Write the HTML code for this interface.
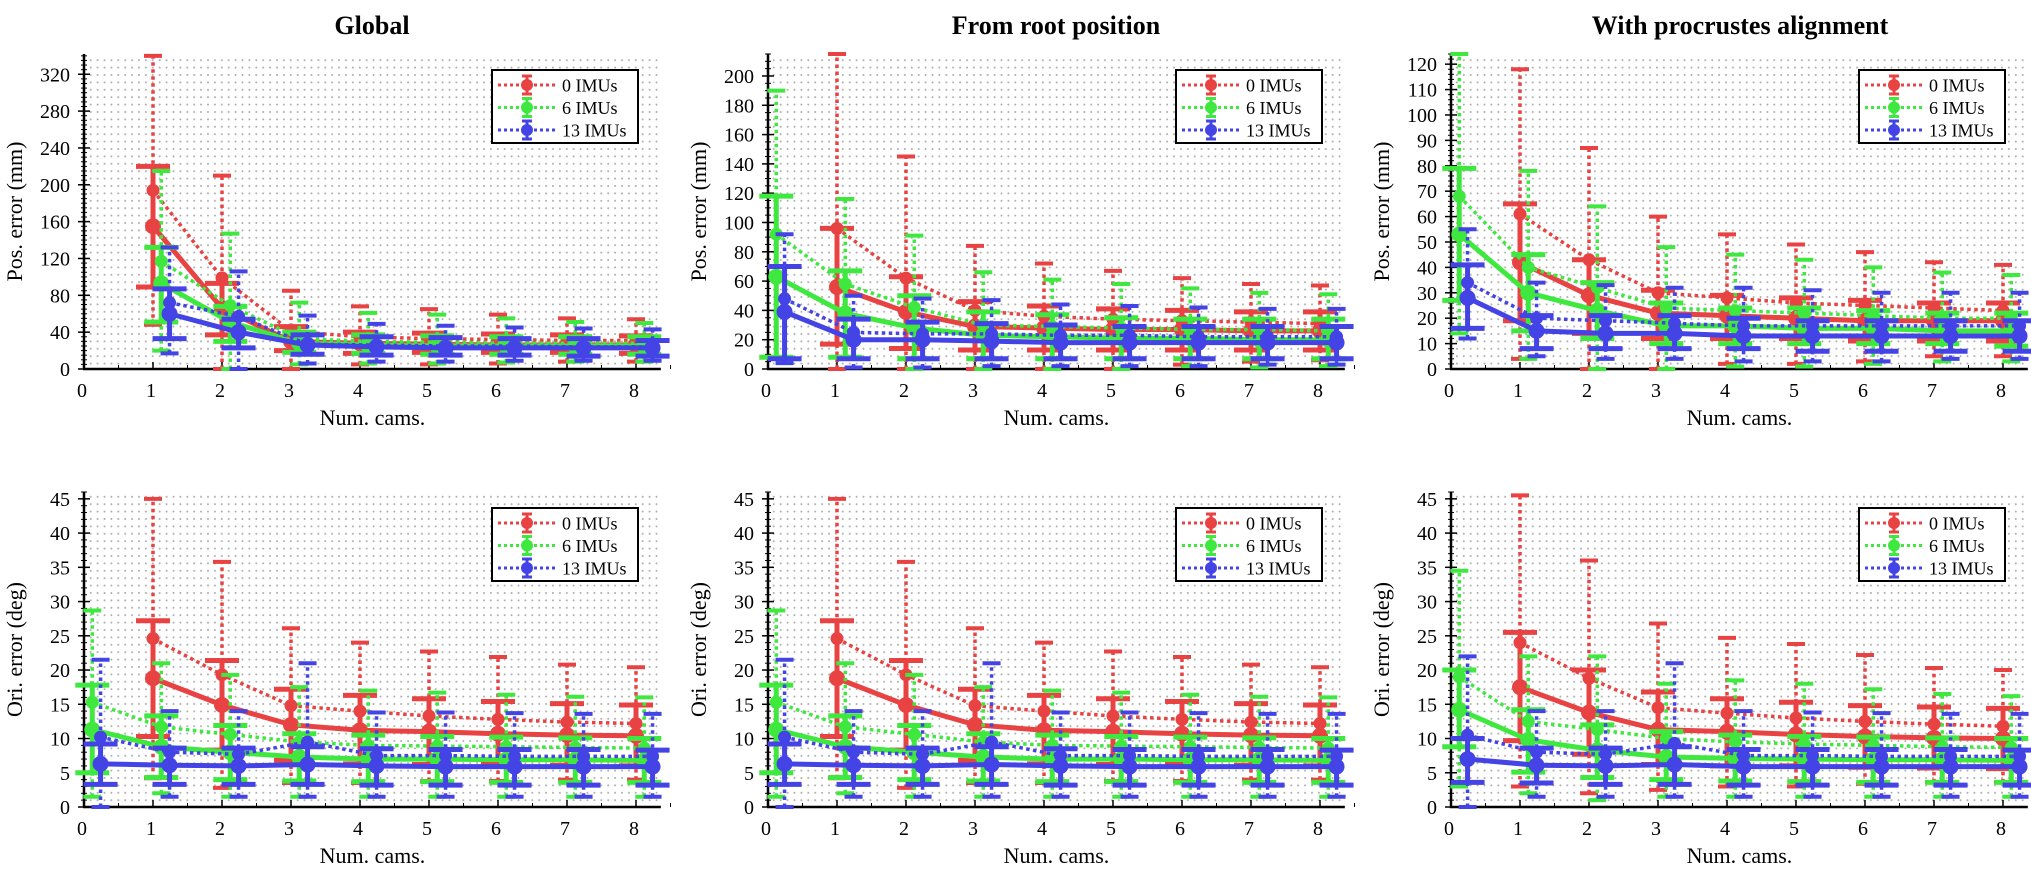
<!DOCTYPE html>
<html><head><meta charset="utf-8">
<style>
html,body{margin:0;padding:0;background:#fff;}
svg, svg text{font-family:"Liberation Serif","DejaVu Serif","Times New Roman",serif;}
</style></head>
<body>
<svg id="chart" width="2031" height="866" viewBox="0 0 2031 866" xmlns="http://www.w3.org/2000/svg" font-family="Liberation Serif, DejaVu Serif, serif">
<defs>
<pattern id="dots" patternUnits="userSpaceOnUse" width="6.9" height="7.4"><circle cx="1" cy="1" r="1" fill="#aaaaaa"/></pattern>
</defs>
<text x="372" y="34" text-anchor="middle" font-size="26" font-weight="bold" font-family="Liberation Serif, DejaVu Serif, serif">Global</text>
<text x="1056" y="34" text-anchor="middle" font-size="26" font-weight="bold" font-family="Liberation Serif, DejaVu Serif, serif">From root position</text>
<text x="1740" y="34" text-anchor="middle" font-size="26" font-weight="bold" font-family="Liberation Serif, DejaVu Serif, serif">With procrustes alignment</text>
</svg>
<script>
const xCats = [0,1,2,3,4,5,6,7,8];
const legendLabels = ["0 IMUs","6 IMUs","13 IMUs"];
// [mean, low, high] per camera count
const gPosRedDot = [null,[194,48,340],[99,0,210],[41,0,85],[35,5,68],[33,5,65],[32,6,59],[31,8,55],[31,8,54]];
const gPosRedSol = [null,[155,89,220],[66,37,93],[30,20,46],[28,17,40],[27,18,39],[26,18,38],[26,18,37],[26,17,36]];
const gPosGreenDot = [null,[117,20,215],[69,0,147],[33,5,72],[30,6,61],[29,6,59],[28,7,55],[28,8,51],[28,8,50]];
const gPosGreenSol = [null,[93,51,132],[51,30,68],[28,18,40],[26,17,37],[25,16,36],[25,16,35],[25,16,35],[25,16,35]];
const gPosBlueDot = [null,[72,17,132],[57,0,106],[27,6,58],[26,8,49],[25,8,47],[25,9,45],[24,9,44],[24,9,43]];
const gPosBlueSol = [null,[60,33,87],[40,23,54],[26,16,37],[24,15,35],[23,15,34],[23,15,33],[23,14,33],[23,14,31]];

const rPosRedDot = [null,[96,0,215],[62,0,145],[40,0,84],[36,0,72],[34,0,67],[33,3,62],[32,5,58],[31,6,57]];
const rPosRedSol = [null,[56,17,96],[39,14,63],[29,13,46],[28,13,43],[27,13,41],[27,13,40],[26,13,39],[26,13,39]];
const rPosGreenDot = [[92,8,190],[58,8,116],[42,0,91],[30,0,66],[29,0,61],[28,0,58],[27,2,55],[27,1,52],[26,2,51]];
const rPosGreenSol = [[63,8,118],[38,8,67],[28,7,50],[23,7,39],[22,7,37],[21,7,35],[21,7,34],[20,7,34],[20,7,34]];
const rPosBlueDot = [[48,4,92],[25,1,50],[24,1,48],[24,2,47],[23,2,44],[23,2,43],[22,2,42],[22,3,41],[22,3,41]];
const rPosBlueSol = [[39,7,70],[20,7,34],[20,7,32],[19,7,31],[18,7,30],[18,7,29],[18,7,29],[18,7,29],[18,7,29]];

const aPosRedDot = [null,[61,4,118],[43,0,87],[30,0,60],[28,2,53],[26,2,49],[25,3,46],[24,5,42],[23,5,41]];
const aPosRedSol = [null,[42,19,65],[29,14,43],[22,12,31],[21,12,29],[20,12,28],[19,11,27],[19,11,26],[19,11,26]];
const aPosGreenDot = [[68,14,124],[40,4,78],[32,0,64],[24,0,48],[23,1,45],[22,1,43],[21,2,40],[20,3,38],[20,3,37]];
const aPosGreenSol = [[53,27,79],[30,15,45],[23,12,34],[17,10,26],[17,10,24],[16,10,24],[16,10,23],[15,10,22],[15,9,22]];
const aPosBlueDot = [[34,12,55],[20,5,34],[19,4,33],[18,4,32],[17,3,32],[17,3,31],[17,3,30],[17,4,30],[17,4,30]];
const aPosBlueSol = [[28,16,41],[15,8,21],[14,8,21],[14,8,21],[13,8,20],[13,7,19],[13,7,19],[13,7,19],[13,7,19]];

const gOriRedDot = [null,[24.6,4.2,45],[19.3,2.8,35.8],[14.8,3.5,26.1],[14,3.5,24],[13.3,3.8,22.7],[12.8,3.8,21.9],[12.4,4,20.8],[12.2,4,20.4]];
const gOriRedSol = [null,[18.8,10.3,27.2],[14.9,8.3,21.4],[12,6.8,17.2],[11.2,6.3,16.3],[11,6.2,15.8],[10.7,6.2,15.4],[10.5,6.1,15.1],[10.4,6,14.9]];
const gOriGreenDot = [[15.3,1.5,28.7],[11.7,2,21],[10.6,1.5,19.3],[9.5,1.5,17.5],[9,1.5,17],[8.9,1.5,16.7],[8.8,1.5,16.4],[8.7,1.5,16.1],[8.6,1.5,16]];
const gOriGreenSol = [[11.3,5,17.8],[8.8,4.3,13.3],[8,4,11.9],[7.3,3.8,10.7],[7,3.7,10.5],[7,3.7,10.3],[6.9,3.6,10.2],[6.9,3.6,10.1],[6.8,3.6,10]];
const gOriBlueDot = [[10.2,0,21.5],[8,1.5,14],[7.7,1.5,14],[9.5,1.5,21],[7.5,1.5,13.8],[7.5,1.5,13.8],[7.4,1.5,13.7],[7.4,1.5,13.6],[7.4,1.5,13.6]];
const gOriBlueSol = [[6.3,3.3,9.2],[6.1,3.3,8.6],[6,3.3,8.6],[6.2,3.3,8.8],[6,3.2,8.5],[5.9,3.2,8.4],[5.9,3.2,8.4],[5.9,3.2,8.4],[5.9,3.2,8.3]];

const rOriRedDot = [null,[24.6,4.2,45],[19.3,2.8,35.8],[14.8,3.5,26.1],[14,3.5,24],[13.3,3.8,22.7],[12.8,3.8,21.9],[12.4,4,20.8],[12.2,4,20.4]];
const rOriRedSol = [null,[18.8,10.3,27.2],[14.9,8.3,21.4],[12,6.8,17.2],[11.2,6.3,16.3],[11,6.2,15.8],[10.7,6.2,15.4],[10.5,6.1,15.1],[10.4,6,14.9]];
const rOriGreenDot = [[15.3,1.5,28.7],[11.7,2,21],[10.6,1.5,19.3],[9.5,1.5,17.5],[9,1.5,17],[8.9,1.5,16.7],[8.8,1.5,16.4],[8.7,1.5,16.1],[8.6,1.5,16]];
const rOriGreenSol = [[11.3,5,17.8],[8.8,4.3,13.3],[8,4,11.9],[7.3,3.8,10.7],[7,3.7,10.5],[7,3.7,10.3],[6.9,3.6,10.2],[6.9,3.6,10.1],[6.8,3.6,10]];
const rOriBlueDot = [[10.2,0,21.5],[8,1.5,14],[7.7,1.5,14],[9.5,1.5,21],[7.5,1.5,13.8],[7.5,1.5,13.8],[7.4,1.5,13.7],[7.4,1.5,13.6],[7.4,1.5,13.6]];
const rOriBlueSol = [[6.3,3.3,9.2],[6.1,3.3,8.6],[6,3.3,8.6],[6.2,3.3,8.8],[6,3.2,8.5],[5.9,3.2,8.4],[5.9,3.2,8.4],[5.9,3.2,8.4],[5.9,3.2,8.3]];

const aOriRedDot = [null,[24,3,45.5],[18.8,2,36],[14.5,2.5,26.8],[13.7,3,24.7],[13,3,23.8],[12.5,3.4,22.2],[12.1,3.6,20.3],[11.8,3.6,20]];
const aOriRedSol = [null,[17.5,9.7,25.5],[13.8,7.7,20],[11.3,6.2,16.8],[11,6,15.8],[10.6,6,15.3],[10.3,5.8,14.8],[10.1,5.7,14.6],[10,5.6,14.4]];
const aOriGreenDot = [[19,3,34.5],[12.5,2,22],[11.3,1,22],[10,1.5,18],[9.5,1.5,18.5],[9.2,1.5,18],[9,1.5,17.2],[8.8,1.5,16.5],[8.7,1.5,16.2]];
const aOriGreenSol = [[14.2,8.8,20],[9.8,5.1,14.2],[8.3,4.3,12],[7.3,4,11],[7.1,3.8,10.5],[7,3.7,10.3],[6.9,3.6,10.2],[6.9,3.6,10.1],[6.8,3.6,10]];
const aOriBlueDot = [[10.5,0,22],[8,1.5,14],[7.7,1.5,14],[9.3,1.5,21],[7.5,1.5,14],[7.5,1.5,13.8],[7.4,1.5,13.7],[7.4,1.5,13.6],[7.4,1.5,13.6]];
const aOriBlueSol = [[7,3.6,10],[6.1,3.5,8.6],[6,3.3,8.6],[6.2,3.3,8.8],[5.9,3.2,8.4],[5.9,3.2,8.4],[5.9,3.2,8.4],[5.9,3.2,8.4],[5.9,3.2,8.3]];

const posTicksG = [0,40,80,120,160,200,240,280,320];
const posTicksR = [0,20,40,60,80,100,120,140,160,180,200];
const posTicksA = [0,10,20,30,40,50,60,70,80,90,100,110,120];
const oriTicks = [0,5,10,15,20,25,30,35,40,45];

const COLORS = ["#e84242","#3fe83f","#4343e6"];
const OFFS = [0,0.12,0.24];
const FONT = "Liberation Serif, DejaVu Serif, serif";
const svg = document.getElementById('chart');
const NS = "http://www.w3.org/2000/svg";
function mk(tag, attrs, parent){
  const e = document.createElementNS(NS, tag);
  for (const k in attrs) e.setAttribute(k, attrs[k]);
  if (tag === 'text') e.setAttribute('font-family', FONT);
  (parent||svg).appendChild(e);
  return e;
}

const panels = [
  {id:"global-pos", ox:84, top:54, y0:369, ymax:342, ticks:posTicksG, minor:5, title:"Pos. error (mm)", data:[[gPosRedDot,gPosRedSol],[gPosGreenDot,gPosGreenSol],[gPosBlueDot,gPosBlueSol]]},
  {id:"root-pos", ox:768, top:54, y0:369, ymax:215, ticks:posTicksR, minor:5, title:"Pos. error (mm)", data:[[rPosRedDot,rPosRedSol],[rPosGreenDot,rPosGreenSol],[rPosBlueDot,rPosBlueSol]]},
  {id:"procrustes-pos", ox:1451, top:54, y0:369, ymax:124, ticks:posTicksA, minor:2, title:"Pos. error (mm)", data:[[aPosRedDot,aPosRedSol],[aPosGreenDot,aPosGreenSol],[aPosBlueDot,aPosBlueSol]]},
  {id:"global-ori", ox:84, top:492, y0:807, ymax:46, ticks:oriTicks, minor:1, title:"Ori. error (deg)", data:[[gOriRedDot,gOriRedSol],[gOriGreenDot,gOriGreenSol],[gOriBlueDot,gOriBlueSol]]},
  {id:"root-ori", ox:768, top:492, y0:807, ymax:46, ticks:oriTicks, minor:1, title:"Ori. error (deg)", data:[[rOriRedDot,rOriRedSol],[rOriGreenDot,rOriGreenSol],[rOriBlueDot,rOriBlueSol]]},
  {id:"procrustes-ori", ox:1451, top:492, y0:807, ymax:46, ticks:oriTicks, minor:1, title:"Ori. error (deg)", data:[[aOriRedDot,aOriRedSol],[aOriGreenDot,aOriGreenSol],[aOriBlueDot,aOriBlueSol]]}
];
const XUNIT = 69, XMAX = 8.36;

panels.forEach(p => {
  const g = mk('g', {});
  
  
  const sx = v => p.ox + v * XUNIT;
  const sy = v => p.y0 - Math.min(v, p.ymax) / p.ymax * (p.y0 - p.top);
  const right = sx(XMAX);
  const grid = mk('rect', {x:p.ox, y:p.top, width:right-p.ox, height:p.y0-p.top, fill:"url(#dots)"}, g);
  
  

  for (let v = 0; v <= p.ymax + 1e-9; v += p.minor) {
    const t = mk('line', {x1:p.ox-3, x2:p.ox+3, y1:sy(v), y2:sy(v), stroke:"#000", "stroke-width":1}, g);
    
    
  }
  p.ticks.forEach(v => {
    const t = mk('line', {x1:p.ox-6, x2:p.ox+6, y1:sy(v), y2:sy(v), stroke:"#000", "stroke-width":1.5}, g);
    
    
    const lb = mk('text', {x:p.ox-14, y:sy(v)+7, "text-anchor":"end", "font-size":20}, g);
    lb.textContent = String(v);
    
    
  });
  xCats.forEach(v => {
    const t = mk('line', {x1:sx(v), x2:sx(v), y1:p.y0, y2:p.y0-7, stroke:"#000", "stroke-width":1.5}, g);
    
    
    const m = mk('line', {x1:sx(v+0.5), x2:sx(v+0.5), y1:p.y0, y2:p.y0-4, stroke:"#000", "stroke-width":1}, g);
    
    
    const lb = mk('text', {x:sx(v)-2, y:p.y0+28, "text-anchor":"middle", "font-size":20}, g);
    lb.textContent = String(v);
    
    
  });
  const ya = mk('line', {x1:p.ox, x2:p.ox, y1:p.top, y2:p.y0, stroke:"#000", "stroke-width":2.5}, g);
  
  
  const xa = mk('line', {x1:p.ox-1, x2:right, y1:p.y0, y2:p.y0, stroke:"#000", "stroke-width":2.5}, g);
  
  
  const yt = mk('text', {x:0, y:0, "text-anchor":"middle", "font-size":22, transform:`translate(${p.ox-62},${(p.top+p.y0)/2}) rotate(-90)`}, g);
  yt.textContent = p.title;
  
  
  const xt = mk('text', {x:(p.ox+right)/2, y:p.y0+56, "text-anchor":"middle", "font-size":22}, g);
  xt.textContent = "Num. cams.";
  
  

  p.data.forEach((pair, ci) => {
    const col = COLORS[ci];
    pair.forEach((arr, si) => {
      const dotted = si === 0;
      const sg = mk('g', {}, g);
      
      
      const pts = [];
      arr.forEach((d, i) => { if (d) pts.push([sx(xCats[i] + OFFS[ci]), sy(d[0])]); });
      const ln = mk('polyline', {points: pts.map(q => q.join(',')).join(' '), fill:"none", stroke:col,
        "stroke-width": dotted ? 3.5 : 5, "stroke-dasharray": dotted ? "3.5 3.5" : "none"}, sg);
      
      
      arr.forEach((d, i) => {
        if (!d) return;
        const x = sx(xCats[i] + OFFS[ci]);
        const hw = dotted ? 9 : 17;
        const eb = mk('line', {x1:x, x2:x, y1:sy(d[1]), y2:sy(d[2]), stroke:col, "stroke-width": dotted ? 3.5 : 5, "stroke-dasharray": dotted ? "3.5 3.5" : "none"}, sg);
        
        
        [d[1], d[2]].forEach(v => {
          const c = mk('line', {x1:x-hw, x2:x+hw, y1:sy(v), y2:sy(v), stroke:col, "stroke-width": dotted ? 4 : 5}, sg);
          
          
        });
        const mkr = mk('circle', {cx:x, cy:sy(d[0]), r: dotted ? 6.5 : 8, fill:col}, sg);
        
        
      });
    });
  });

  const lx = p.ox + 408, ly = p.top + 16;
  const lg = mk('g', {}, g);
  
  
  mk('rect', {x:lx, y:ly, width:146, height:73, fill:"#fff", stroke:"#000", "stroke-width":2}, lg);
  legendLabels.forEach((lab, i) => {
    const ey = ly + 15 + i * 22.5;
    const e = mk('g', {}, lg);
    
    
    mk('line', {x1:lx+6, x2:lx+64, y1:ey, y2:ey, stroke:COLORS[i], "stroke-width":3, "stroke-dasharray":"3 3"}, e);
    mk('line', {x1:lx+35, x2:lx+35, y1:ey-9, y2:ey+9, stroke:COLORS[i], "stroke-width":3}, e);
    mk('line', {x1:lx+30, x2:lx+40, y1:ey-9, y2:ey-9, stroke:COLORS[i], "stroke-width":3}, e);
    mk('line', {x1:lx+30, x2:lx+40, y1:ey+9, y2:ey+9, stroke:COLORS[i], "stroke-width":3}, e);
    mk('circle', {cx:lx+35, cy:ey, r:6, fill:COLORS[i]}, e);
    const t = mk('text', {x:lx+70, y:ey+6.5, "font-size":18}, e);
    t.textContent = lab;
  });
});
</script>
</body></html>
